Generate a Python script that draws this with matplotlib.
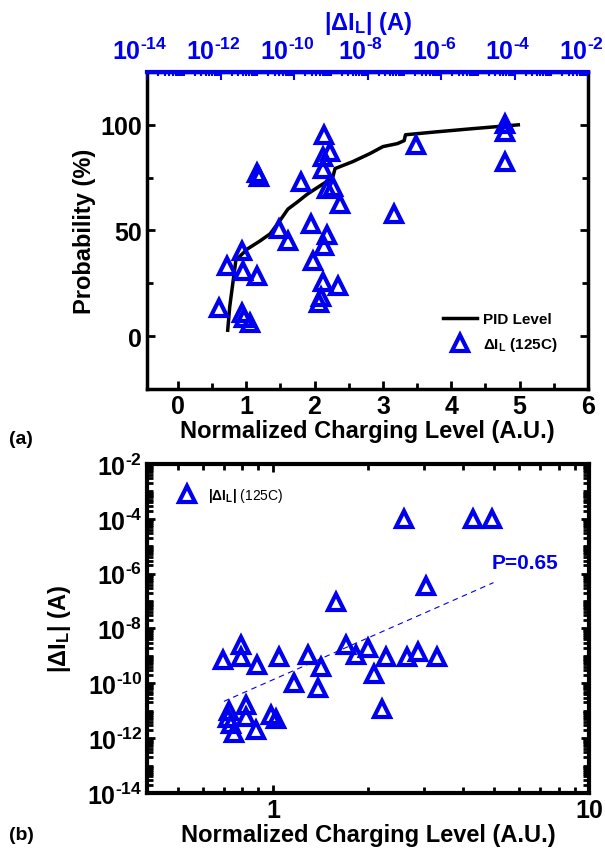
import matplotlib.pyplot as plt
import matplotlib.transforms as mtransforms
from matplotlib.ticker import MultipleLocator, LogLocator, NullFormatter, FixedLocator

plt.rcParams['font.family'] = ['Liberation Sans', 'DejaVu Sans']
plt.rcParams['font.weight'] = 'bold'
plt.rcParams['axes.labelweight'] = 'bold'
plt.rcParams['mathtext.fontset'] = 'custom'
plt.rcParams['mathtext.rm'] = 'Liberation Sans:bold'
plt.rcParams['mathtext.it'] = 'Liberation Sans:bold'
plt.rcParams['mathtext.bf'] = 'Liberation Sans:bold'
plt.rcParams['mathtext.default'] = 'rm'

# (a) probability vs normalized charging level
level_a = [2.14, 2.23, 2.12, 2.12, 1.16, 1.19, 1.80, 2.18, 2.27, 2.37,
           1.95, 1.48, 1.61, 2.18, 2.14, 1.98, 0.94, 0.72, 0.95, 1.16,
           2.12, 2.34, 2.09, 2.06, 0.61, 0.94, 0.97, 1.05, 3.48, 4.79,
           4.79, 4.79, 3.16]
prob_a = [95.3, 87.3, 85.0, 79.3, 77.0, 75.1, 72.8, 69.5, 70.4, 62.4,
          53.1, 50.7, 45.1, 47.9, 42.7, 35.7, 40.4, 33.3, 31.0, 28.6,
          25.4, 23.9, 18.3, 15.5, 13.1, 10.8, 8.5, 6.1, 90.6, 100.5,
          96.7, 82.6, 57.7]

pid_x = [0.73, 0.76, 0.81, 0.85, 1.02, 1.20, 1.35, 1.49, 1.61, 1.75, 1.89,
         2.05, 2.18, 2.27, 2.30, 2.56, 2.81, 3.00, 3.21, 3.31, 3.33, 3.79,
         4.28, 4.98]
pid_p = [2.8, 14.0, 26.3, 36.0, 41.3, 45.0, 48.4, 54.5, 60.1, 63.5, 67.1,
         70.5, 73.2, 75.6, 79.3, 82.6, 86.4, 89.7, 91.1, 92.5, 95.3, 96.7,
         98.1, 100.0]

# (b) |dI_L| vs normalized charging level
level_b = [0.695, 0.793, 0.793, 0.89, 1.045, 1.29, 1.42, 1.165, 1.39, 1.58,
           1.70, 1.83, 2.00, 2.08, 2.27, 2.22, 2.65, 2.87, 3.29, 2.59,
           4.28, 4.94, 3.04, 0.726, 0.721, 0.822, 0.822, 0.753, 0.884,
           0.986, 1.02, 0.737]
dil_b = [6.9e-10, 2.4e-9, 8.9e-10, 4.5e-10, 9.5e-10, 1.04e-9, 3.8e-10,
         1.0e-10, 6.6e-11, 9.6e-8, 2.6e-9, 1.05e-9, 1.9e-9, 2.1e-10, 8.9e-10,
         1.2e-11, 8.9e-10, 1.35e-9, 8.9e-10, 1.0e-4, 1.0e-4, 1.0e-4, 3.6e-7,
         9.6e-12, 5.4e-12, 1.6e-11, 5.8e-12, 1.5e-12, 1.95e-12, 6.9e-12,
         4.9e-12, 3.4e-12]

fit_x = [0.70, 4.98]
fit_y = [2.2e-11, 4.7e-7]

log_ticks = [1e-14, 1e-12, 1e-10, 1e-8, 1e-6, 1e-4, 1e-2]
log_labels = [r'$10^{\text{-}14}$', r'$10^{\text{-}12}$', r'$10^{\text{-}10}$',
              r'$10^{\text{-}8}$', r'$10^{\text{-}6}$', r'$10^{\text{-}4}$',
              r'$10^{\text{-}2}$']

blue = '#0000ee'
fig = plt.figure(figsize=(6.05, 8.62), dpi=100)

# ---- panel (a)
ax1 = fig.add_axes([0.243, 0.5476, 0.729, 0.3677])
ax1.plot(pid_x, pid_p, color='black', lw=2.5, label='PID Level')
ax1.plot(level_a, prob_a, ls='none', marker='^', ms=12, mfc='none',
         mec=blue, mew=3, label=r'$\Delta I_L$ (125C)')
ax1.set_xlim(-0.45, 6)
ax1.set_ylim(-25, 125)
ax1.set_xticks(range(0, 7))
ax1.set_yticks([0, 50, 100])
ax1.xaxis.set_minor_locator(MultipleLocator(0.5))
ax1.yaxis.set_minor_locator(MultipleLocator(25))
ax1.tick_params(which='both', direction='in', right=True, top=False,
                width=2, labelsize=18)
ax1.tick_params(which='major', length=6)
ax1.tick_params(which='minor', length=4)
ax1.set_xlabel('Normalized Charging Level (A.U.)', fontsize=17, labelpad=1)
ax1.set_ylabel('Probability (%)', fontsize=17, labelpad=3)
for s in ax1.spines.values():
    s.set_linewidth(2.5)
ax1.legend(loc='lower left', bbox_to_anchor=(0.64, 0.07), frameon=False,
           prop={'size': 11, 'weight': 'bold'}, handlelength=2.2,
           handletextpad=0.4, labelspacing=0.6)

ax1t = ax1.twiny()
ax1t.set_xscale('log')
ax1t.set_xlim(1e-14, 1e-2)
ax1t.xaxis.set_major_locator(FixedLocator(log_ticks))
ax1t.set_xticklabels(log_labels)
ax1t.xaxis.set_minor_locator(LogLocator(base=10, subs=range(1, 10), numticks=100))
ax1t.xaxis.set_minor_formatter(NullFormatter())
ax1t.tick_params(which='both', direction='in', colors=blue, width=1.5,
                 labelsize=18, pad=6)
ax1t.tick_params(which='major', length=6)
ax1t.tick_params(which='minor', length=3)
ax1t.spines['top'].set_color(blue)
ax1t.spines['top'].set_linewidth(3)
ax1t.set_xlabel(r'$|\Delta I_L|$ (A)', color=blue, fontsize=17, labelpad=6)
shift = mtransforms.ScaledTranslation(-5 / 72, 0, fig.dpi_scale_trans)
for lab in ax1t.get_xticklabels():
    lab.set_transform(lab.get_transform() + shift)

# ---- panel (b)
ax2 = fig.add_axes([0.243, 0.0789, 0.731, 0.3817])
ax2.plot(level_b, dil_b, ls='none', marker='^', ms=12, mfc='none',
         mec=blue, mew=3, label=r'$|\Delta I_L|$ (125C)')
ax2.plot(fit_x, fit_y, ls=(0, (5, 4)), color=blue, lw=0.8)
ax2.set_xscale('log')
ax2.set_yscale('log')
ax2.set_xlim(0.4, 10)
ax2.set_ylim(1e-14, 1e-2)
ax2.xaxis.set_major_locator(FixedLocator([1, 10]))
ax2.set_xticklabels(['1', '10'])
ax2.xaxis.set_minor_locator(LogLocator(base=10, subs=range(2, 10), numticks=10))
ax2.xaxis.set_minor_formatter(NullFormatter())
ax2.yaxis.set_major_locator(FixedLocator(log_ticks))
ax2.set_yticklabels(log_labels)
ax2.yaxis.set_minor_locator(LogLocator(base=10, subs=range(1, 10), numticks=100))
ax2.yaxis.set_minor_formatter(NullFormatter())
ax2.tick_params(which='both', direction='in', right=True, top=True,
                width=2, labelsize=18)
ax2.tick_params(which='major', length=6)
ax2.tick_params(which='minor', length=4)
ax2.set_xlabel('Normalized Charging Level (A.U.)', fontsize=17, labelpad=1)
ax2.set_ylabel(r'$|\Delta I_L|$ (A)', fontsize=17, labelpad=10)
for s in ax2.spines.values():
    s.set_linewidth(3)
ax2.text(0.78, 0.70, 'P=0.65', transform=ax2.transAxes, color=blue,
         fontsize=15, fontweight='bold', va='center', ha='left')
ax2.legend(handles=ax2.lines[:1], loc='upper left', bbox_to_anchor=(0.03, 0.97),
           frameon=False, prop={'size': 10, 'weight': 'normal'},
           handletextpad=0.5)

fig.text(0.015, 0.49, '(a)', fontsize=14, fontweight='bold', va='center')
fig.text(0.015, 0.031, '(b)', fontsize=14, fontweight='bold', va='center')

fig.savefig('out.png', dpi=100)
